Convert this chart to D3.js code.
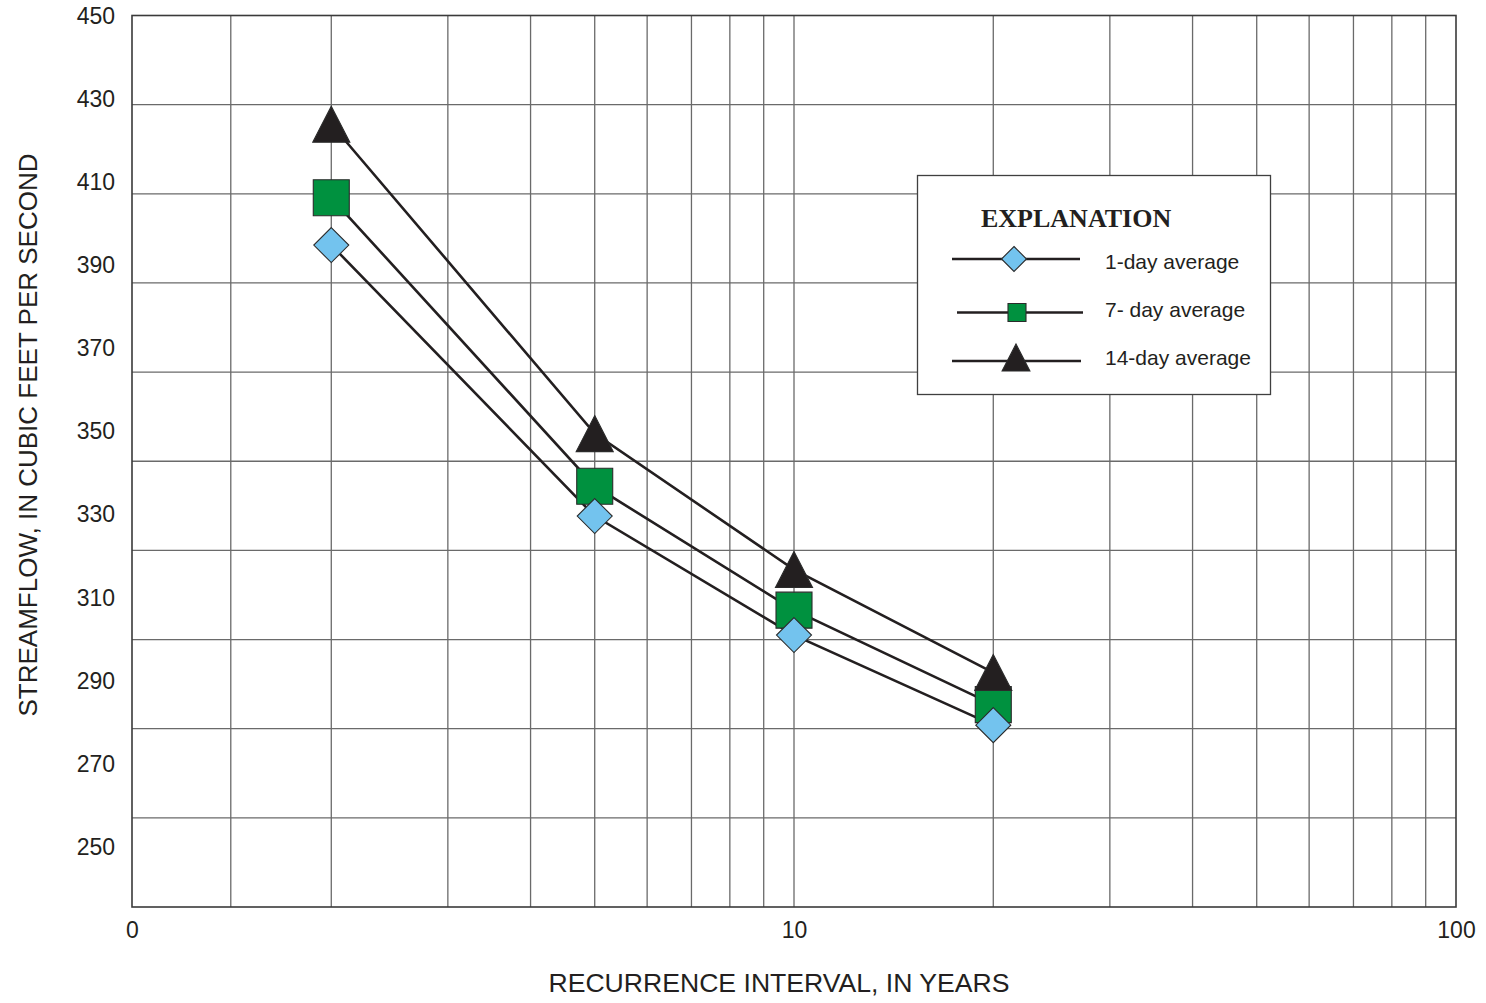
<!DOCTYPE html>
<html>
<head>
<meta charset="utf-8">
<script src="https://cdn.jsdelivr.net/npm/d3@7/dist/d3.min.js"></script>
<style>
  html, body { margin: 0; padding: 0; background: #ffffff; }
  svg { display: block; }
  text { font-family: "Liberation Sans", Arial, sans-serif; fill: #231f20; }
</style>
</head>
<body>
<svg id="chart" width="1486" height="1003"></svg>
<script>
// Low-flow frequency: streamflow versus recurrence interval
const recurrenceYears = [2, 5, 10, 20];
const oneDayFlow      = [398.5, 337.7, 311.0, 290.8];
const sevenDayFlow    = [409.1, 344.4, 316.6, 295.4];
const fourteenDayFlow = [425.6, 356.2, 325.7, 302.6];

const seriesNames = ["1-day average", "7- day average", "14-day average"];
const seriesShapes = ["diamond", "square", "triangle"];
const seriesFills = ["#73c3ee", "#00913f", "#231f20"];

const yTickValues = [450, 430, 410, 390, 370, 350, 330, 310, 290, 270, 250];
const xGridValues = [1.41, 2, 3, 4, 5, 6, 7, 8, 9, 10, 20, 30, 40, 50, 60, 70, 80, 90];
const xTickValues = [1, 10, 100];
const xTickLabels = ["0", "10", "100"];

const plot = { left: 132, top: 15.5, right: 1456, bottom: 907 };

const svg = d3.select("#chart");

const x = d3.scaleLog().domain([1, 100]).range([plot.left, plot.right]);
const y = d3.scaleLinear().domain([450, 250]).range([plot.top, plot.bottom]);
// tick labels sit on their own, slightly tighter spacing
const yLabel = d3.scaleLinear().domain([450, 250]).range([16, 847]);

// grid
const grid = svg.append("g");
grid.selectAll("line.v").data(xGridValues).join("line")
  .attr("x1", d => x(d)).attr("x2", d => x(d))
  .attr("y1", plot.top).attr("y2", plot.bottom)
  .attr("stroke", "#6a6a6a").attr("stroke-width", 1.3);
grid.selectAll("line.h").data(yTickValues.slice(1, -1)).join("line")
  .attr("x1", plot.left).attr("x2", plot.right)
  .attr("y1", d => y(d)).attr("y2", d => y(d))
  .attr("stroke", "#6a6a6a").attr("stroke-width", 1.3);
svg.append("rect")
  .attr("x", plot.left).attr("y", plot.top)
  .attr("width", plot.right - plot.left).attr("height", plot.bottom - plot.top)
  .attr("fill", "none").attr("stroke", "#3a3a3a").attr("stroke-width", 1.6);

// axes
const yAxis = svg.append("g").attr("transform", "translate(115,0)")
  .call(d3.axisLeft(yLabel).tickValues(yTickValues).tickSize(0).tickPadding(0));
yAxis.select(".domain").remove();
yAxis.selectAll("text").attr("font-size", 23).style("font-family", "'Liberation Sans', Arial, sans-serif").style("fill", "#231f20");

const xAxis = svg.append("g").attr("transform", `translate(0,${plot.bottom})`)
  .call(d3.axisBottom(x).tickValues(xTickValues).tickFormat((d, i) => xTickLabels[i]).tickSize(0).tickPadding(15));
xAxis.select(".domain").remove();
xAxis.selectAll("text").attr("font-size", 23).style("font-family", "'Liberation Sans', Arial, sans-serif").style("fill", "#231f20");

svg.append("text")
  .attr("x", 779).attr("y", 992)
  .attr("text-anchor", "middle").attr("font-size", 26.6)
  .text("RECURRENCE INTERVAL, IN YEARS");
svg.append("text")
  .attr("transform", "translate(37,435) rotate(-90)")
  .attr("text-anchor", "middle").attr("font-size", 26)
  .text("STREAMFLOW, IN CUBIC FEET PER SECOND");

// series
const flows = [oneDayFlow, sevenDayFlow, fourteenDayFlow];
const series = seriesNames.map((name, i) => ({
  name, shape: seriesShapes[i], fill: seriesFills[i],
  points: recurrenceYears.map((r, j) => ({ r, v: flows[i][j] }))
}));

function markerPath(shape, s) {
  // s = half-size of the marker's bounding box
  if (shape === "diamond") return `M0,${-s}L${s},0L0,${s}L${-s},0Z`;
  if (shape === "square") return `M${-s},${-s}H${s}V${s}H${-s}Z`;
  return `M0,${-s}L${s * 1.03},${s}L${-s * 1.03},${s}Z`;
}
const markerSize = { diamond: 17.5, square: 18, triangle: 18 };
const legendSize = { diamond: 12.5, square: 9, triangle: 13.5 };

const line = d3.line().x(d => x(d.r)).y(d => y(d.v));
svg.append("g").selectAll("path").data(series).join("path")
  .attr("d", d => line(d.points))
  .attr("fill", "none").attr("stroke", "#231f20").attr("stroke-width", 2.6);

// squares first, then diamonds and triangles on top
const drawOrder = [1, 0, 2];
drawOrder.forEach(i => {
  const s = series[i];
  svg.append("g").selectAll("path").data(s.points).join("path")
    .attr("transform", d => `translate(${x(d.r)},${y(d.v)})`)
    .attr("d", markerPath(s.shape, markerSize[s.shape]))
    .attr("fill", s.fill).attr("stroke", "#2b2b2b").attr("stroke-width", 1.1);
});

// legend
const legend = svg.append("g");
legend.append("rect")
  .attr("x", 917.5).attr("y", 175.5).attr("width", 353).attr("height", 219)
  .attr("fill", "#ffffff").attr("stroke", "#3f3f3f").attr("stroke-width", 1.3);
legend.append("text")
  .attr("x", 981).attr("y", 227)
  .style("font-family", "'Liberation Serif', 'Times New Roman', serif")
  .style("font-weight", "bold").attr("font-size", 26)
  .text("EXPLANATION");

const legendRows = [
  { y: 259, x1: 952, x2: 1080, mx: 1014, my: 259, ty: 269 },
  { y: 312.5, x1: 957, x2: 1083, mx: 1017, my: 312.5, ty: 317 },
  { y: 361, x1: 952, x2: 1081, mx: 1016, my: 357.5, ty: 365 }
];
series.forEach((s, i) => {
  const row = legendRows[i];
  const g = legend.append("g");
  g.append("line").attr("x1", row.x1).attr("x2", row.x2).attr("y1", row.y).attr("y2", row.y)
    .attr("stroke", "#231f20").attr("stroke-width", 2.6);
  g.append("path").attr("transform", `translate(${row.mx},${row.my})`)
    .attr("d", markerPath(s.shape, legendSize[s.shape]))
    .attr("fill", s.fill).attr("stroke", "#2b2b2b").attr("stroke-width", 1.1);
  g.append("text").attr("x", 1105).attr("y", row.ty).attr("font-size", 21).text(s.name);
});
</script>
</body>
</html>
